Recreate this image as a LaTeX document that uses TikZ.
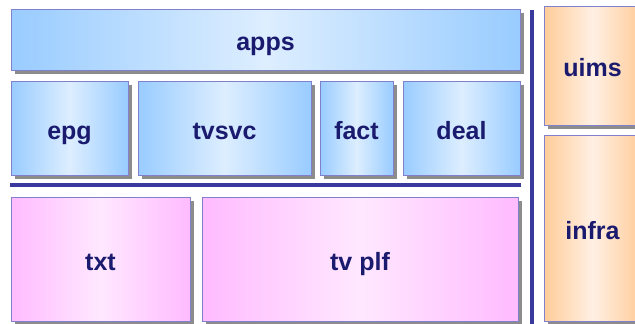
\documentclass[tikz,border=0pt]{standalone}
\usepackage{fontspec}
\setmainfont{Liberation Sans}
\usetikzlibrary{shadows}
\definecolor{edgeblue}{HTML}{99CCFF}
\definecolor{midblue}{HTML}{DDEEFF}
\definecolor{edgepink}{HTML}{FFBBFF}
\definecolor{midpink}{HTML}{FFE8FF}
\definecolor{edgeorange}{HTML}{FFCC99}
\definecolor{midorange}{HTML}{FFF0E4}
\definecolor{framecol}{HTML}{8080CC}
\definecolor{labelcol}{HTML}{1A1A6E}
\definecolor{sepcol}{HTML}{3A3A9E}
\definecolor{shadowcol}{HTML}{8C8C8C}
\tikzset{
  layer/.style={draw=framecol, line width=1pt, inner sep=0pt, outer sep=0pt,
    anchor=north west, text=labelcol, text height=22pt, text depth=0pt,
    font=\bfseries\fontsize{25}{30}\selectfont,
    drop shadow={shadow xshift=4pt, shadow yshift=-4pt, fill=shadowcol, opacity=1}},
  bluebox/.style={layer, left color=edgeblue, right color=edgeblue, middle color=midblue},
  pinkbox/.style={layer, left color=edgepink, right color=edgepink, middle color=midpink},
  orangebox/.style={layer, left color=edgeorange, right color=edgeorange, middle color=midorange},
  sepline/.style={draw=sepcol, line width=4pt},
}
\begin{document}
\begin{tikzpicture}[x=1pt, y=-1pt]
  \useasboundingbox[fill=white] (0,0) rectangle (635,324);

  % application layer
  \node[bluebox, minimum width=509pt, minimum height=61pt] (apps) at (11,9) {apps};
  \node[bluebox, minimum width=117pt, minimum height=94pt] (epg) at (11,81) {epg};
  \node[bluebox, minimum width=173pt, minimum height=94pt] (tvsvc) at (138,81) {tvsvc};
  \node[bluebox, minimum width=73pt, minimum height=94pt] (fact) at (320,81) {fact};
  \node[bluebox, minimum width=117pt, minimum height=94pt] (deal) at (403,81) {deal};

  % separators
  \coordinate (hsepL) at (10,185);
  \coordinate (hsepR) at (521,185);
  \coordinate (vsepT) at (532,10);
  \coordinate (vsepB) at (532,324);
  \draw[sepline] (hsepL) -- (hsepR);
  \draw[sepline] (vsepT) -- (vsepB);

  % platform layer
  \node[pinkbox, minimum width=179pt, minimum height=124pt] (txt) at (11,197) {txt};
  \node[pinkbox, minimum width=316pt, minimum height=124pt] (tvplf) at (202,197) {tv plf};

  % side column
  \node[orangebox, minimum width=97pt, minimum height=119pt] (uims) at (544,6) {uims};
  \node[orangebox, minimum width=97pt, minimum height=186pt] (infra) at (544,135) {infra};
\end{tikzpicture}
\end{document}
